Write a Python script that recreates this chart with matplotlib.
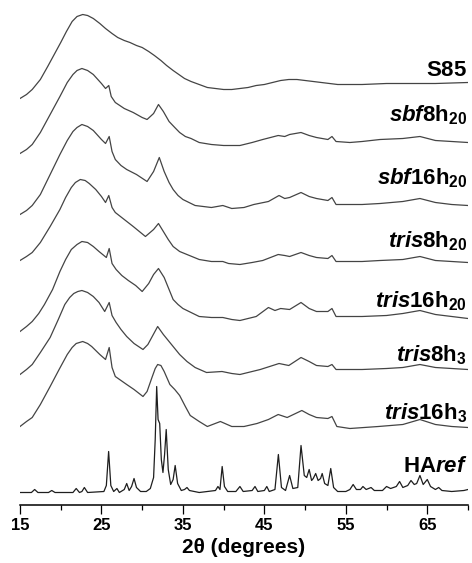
import numpy as np
import matplotlib
matplotlib.use('Agg')
import matplotlib.pyplot as plt
from matplotlib.ticker import MultipleLocator

plt.rcParams['font.family'] = 'Liberation Sans'
plt.rcParams['font.weight'] = 'bold'
plt.rcParams['mathtext.fontset'] = 'custom'
plt.rcParams['mathtext.rm'] = 'Liberation Sans:bold'
plt.rcParams['mathtext.bf'] = 'Liberation Sans:bold'
plt.rcParams['mathtext.it'] = 'Liberation Sans:italic:bold'

# XRD patterns, 2theta (deg) vs intensity (a.u.)
th_s85 = [15.0, 15.8, 16.5, 17.5, 18.4, 19.2, 20.0, 20.7, 21.4, 22.0, 22.7, 23.3, 24.0, 24.8, 25.5, 26.3, 27.0,
          27.8, 28.5, 29.3, 30.0, 30.8, 31.5, 32.3, 33.0, 33.8, 34.5, 35.2, 36.0, 37.0, 38.0, 39.0, 40.0, 41.0,
          42.0, 43.0, 44.0, 45.0, 46.0, 47.0, 48.0, 49.0, 50.0, 51.0, 52.0, 53.0, 54.0, 57.0, 60.0, 63.0, 66.0,
          70.0]
i_s85 = [0, 4, 9, 19, 32, 44, 56, 67, 77, 82, 84, 83, 80, 75, 70, 65, 61, 58, 56, 53, 51, 47, 43, 38, 33, 28,
         24, 20, 17, 14, 11, 10, 9, 9, 10, 11, 13, 14, 16, 18, 19, 19, 18, 17, 16, 15, 14, 14, 15, 15, 15, 16]

th_sbf8 = [15.0, 15.8, 16.5, 17.5, 18.7, 19.9, 20.8, 21.5, 22.0, 22.6, 23.3, 24.0, 25.0, 25.5, 25.9, 26.2, 26.7,
           27.8, 28.9, 30.0, 30.6, 31.4, 32.0, 32.6, 33.3, 34.0, 34.6, 35.3, 36.0, 37.0, 38.5, 40.0, 42.0, 43.5,
           44.8, 46.7, 47.5, 48.1, 49.5, 50.5, 51.4, 52.8, 53.3, 53.8, 55.5, 57.0, 59.2, 62.0, 64.1, 66.0, 68.0,
           70.0]
i_sbf8 = [0, 4, 9, 21, 39, 57, 71, 79, 83, 85, 83, 79, 70, 65, 68, 57, 51, 45, 41, 36, 34, 40, 49, 42, 32, 26,
          21, 17, 15, 11, 9, 8, 8, 11, 14, 18, 17, 19, 21, 18, 16, 14, 17, 12, 11, 12, 14, 15, 17, 13, 12, 11]

th_sbf16 = [15.0, 15.8, 16.5, 17.5, 18.7, 19.9, 20.8, 21.5, 22.0, 22.6, 23.3, 24.0, 25.0, 25.5, 25.95, 26.3,
            26.7, 27.4, 28.1, 29.3, 30.6, 31.4, 32.1, 32.7, 33.3, 33.8, 34.4, 35.0, 36.5, 38.5, 39.9, 41.0, 42.5,
            43.7, 45.5, 46.8, 47.5, 48.1, 49.5, 50.5, 51.4, 52.8, 53.3, 53.8, 55.5, 57.0, 59.2, 62.0, 64.1, 66.0,
            68.0, 70.0]
i_sbf16 = [0, 4, 9, 20, 40, 60, 74, 83, 87, 90, 88, 84, 75, 71, 78, 63, 55, 49, 45, 40, 33, 43, 57, 43, 32, 25,
           19, 15, 9, 7, 9, 6, 7, 10, 13, 19, 16, 17, 22, 18, 16, 14, 17, 10, 10, 10, 11, 13, 16, 12, 10, 9]

th_tris8_20 = [15.0, 15.8, 16.5, 17.5, 18.7, 19.9, 20.6, 21.3, 21.8, 22.4, 23.0, 23.5, 24.3, 25.0, 25.5, 25.9,
               26.3, 26.7, 27.8, 28.9, 30.4, 31.4, 32.0, 32.6, 33.2, 33.8, 34.6, 35.5, 37.0, 38.5, 39.9, 40.6,
               42.0, 43.5, 44.8, 46.7, 47.5, 48.1, 49.5, 50.5, 51.4, 52.8, 53.3, 53.8, 55.5, 57.0, 59.2, 62.0,
               64.1, 66.0, 68.0, 70.0]
i_tris8_20 = [4, 8, 12, 22, 38, 55, 67, 77, 82, 85, 84, 81, 75, 68, 62, 69, 57, 52, 45, 38, 28, 35, 41, 33, 25,
              18, 13, 10, 5, 3, 3, 1, 0, 2, 4, 10, 9, 8, 12, 9, 7, 6, 9, 3, 3, 3, 4, 5, 8, 4, 3, 2]

th_tris16_20 = [15.0, 15.8, 16.5, 17.3, 18.0, 19.0, 19.9, 20.6, 21.3, 22.0, 22.6, 23.3, 24.0, 24.7, 25.3, 25.6,
                25.95, 26.3, 26.8, 27.5, 28.3, 29.2, 30.0, 30.8, 31.4, 32.0, 32.7, 33.3, 33.8, 34.4, 35.0, 36.0,
                37.0, 38.5, 39.9, 41.0, 42.0, 44.0, 45.5, 46.3, 47.0, 48.1, 49.5, 50.5, 51.4, 52.8, 53.3, 53.8,
                55.5, 57.0, 60.0, 62.0, 64.1, 66.0, 68.0, 70.0]
i_tris16_20 = [0, 5, 10, 18, 27, 42, 60, 72, 82, 87, 90, 89, 85, 80, 76, 74, 83, 68, 62, 56, 51, 46, 40, 48, 57,
               63, 54, 42, 32, 27, 23, 19, 15, 14, 14, 12, 11, 15, 24, 21, 23, 22, 29, 23, 20, 20, 23, 15, 15,
               15, 16, 18, 21, 17, 15, 13]

th_tris8_3 = [15.0, 15.8, 16.5, 17.5, 18.7, 19.7, 20.5, 21.1, 21.6, 22.1, 22.6, 23.3, 24.0, 24.7, 25.4, 25.95,
              26.3, 26.8, 27.4, 28.1, 29.0, 30.1, 30.7, 31.3, 31.9, 32.6, 33.2, 33.8, 34.6, 35.5, 36.5, 37.9,
              39.8, 41.0, 42.0, 44.5, 46.8, 48.0, 49.5, 50.5, 51.4, 52.8, 53.3, 53.8, 55.5, 57.0, 60.0, 62.0,
              64.1, 66.0, 68.0, 70.0]
i_tris8_3 = [0, 5, 10, 22, 37, 55, 70, 77, 81, 83, 84, 82, 78, 72, 63, 72, 59, 52, 45, 38, 31, 25, 30, 39, 48,
             40, 34, 28, 20, 13, 7, 2, 3, 1, 0, 5, 11, 9, 17, 13, 9, 8, 10, 5, 5, 5, 6, 7, 10, 7, 6, 5]

th_tris16_3 = [15.0, 15.8, 16.5, 17.5, 18.7, 19.8, 20.8, 21.4, 21.9, 22.7, 23.3, 23.8, 24.8, 25.5, 25.95, 26.3,
               26.7, 27.4, 28.1, 29.0, 30.1, 30.6, 31.2, 31.6, 31.9, 32.3, 32.7, 33.4, 34.0, 34.6, 35.3, 35.9,
               37.0, 38.0, 39.6, 41.0, 42.5, 44.1, 45.5, 46.7, 47.8, 49.6, 50.5, 51.4, 52.8, 53.3, 53.9, 55.5,
               59.0, 62.0, 64.1, 66.0, 68.0, 70.0]
i_tris16_3 = [2, 7, 11, 24, 42, 59, 74, 81, 85, 87, 85, 82, 74, 69, 81, 61, 52, 48, 44, 39, 32, 37, 51, 60, 64,
              63, 57, 44, 39, 33, 22, 13, 7, 2, 7, 2, 2, 5, 9, 14, 11, 18, 14, 11, 10, 12, 2, 0, 2, 4, 9, 4, 2, 1]

th_ha = [15.0, 16.4, 16.8, 17.2, 18.5, 18.9, 19.3, 21.5, 21.9, 22.3, 22.6, 22.9, 23.3, 25.3, 25.6, 25.88, 26.15,
         26.5, 26.9, 27.2, 27.8, 28.1, 28.4, 28.7, 29.0, 29.3, 29.8, 30.5, 31.0, 31.4, 31.6, 31.78, 31.95, 32.15,
         32.35, 32.55, 32.75, 32.95, 33.2, 33.5, 33.8, 34.05, 34.35, 34.8, 35.2, 35.5, 35.8, 37.0, 39.0, 39.3,
         39.55, 39.82, 40.1, 40.5, 41.5, 42.0, 42.4, 43.5, 43.85, 44.2, 45.0, 45.3, 45.6, 46.3, 46.72, 47.1, 47.6,
         48.1, 48.5, 49.1, 49.5, 49.9, 50.2, 50.5, 50.8, 51.0, 51.3, 51.6, 51.9, 52.1, 52.4, 52.8, 53.15, 53.5,
         54.0, 55.0, 55.5, 55.9, 56.3, 56.8, 57.1, 57.5, 58.1, 58.5, 59.5, 60.0, 60.5, 61.2, 61.6, 62.0, 62.6,
         63.0, 63.4, 63.7, 64.1, 64.5, 65.0, 65.4, 66.0, 66.4, 66.8, 68.0, 69.5, 70.0]
i_ha = [1, 1, 4, 1, 1, 3, 1, 1, 5, 1, 2, 6, 1, 2, 8, 42, 8, 2, 5, 1, 4, 10, 3, 7, 15, 6, 2, 2, 5, 16, 54, 107,
        74, 70, 34, 21, 39, 64, 24, 9, 14, 28, 10, 3, 4, 6, 3, 1, 3, 7, 4, 27, 7, 2, 2, 7, 2, 3, 7, 2, 3, 7, 2,
        4, 39, 6, 3, 18, 5, 6, 48, 18, 16, 24, 13, 15, 20, 13, 15, 20, 10, 8, 25, 6, 2, 2, 4, 9, 4, 4, 7, 4, 6,
        3, 3, 7, 5, 7, 12, 6, 8, 13, 9, 10, 18, 9, 14, 7, 4, 6, 3, 2, 3, 4]

labels = [r'$\mathbf{S85}$', r'$\mathit{sbf}\mathbf{8h}_{\mathbf{20}}$', r'$\mathit{sbf}\mathbf{16h}_{\mathbf{20}}$',
          r'$\mathit{tris}\mathbf{8h}_{\mathbf{20}}$', r'$\mathit{tris}\mathbf{16h}_{\mathbf{20}}$',
          r'$\mathit{tris}\mathbf{8h}_{\mathbf{3}}$', r'$\mathit{tris}\mathbf{16h}_{\mathbf{3}}$',
          r'$\mathbf{HA}\mathit{ref}$']
thetas = [th_s85, th_sbf8, th_sbf16, th_tris8_20, th_tris16_20, th_tris8_3, th_tris16_3, th_ha]
intens = [i_s85, i_sbf8, i_sbf16, i_tris8_20, i_tris16_20, i_tris8_3, i_tris16_3, i_ha]

# vertical stacking of the patterns and label heights
offsets = [406, 351, 290, 240, 173, 130, 76, 11]
label_y = [428, 383, 320, 257, 197, 143, 85, 33]

fig = plt.figure(figsize=(4.72, 5.63), dpi=100)
ax = fig.add_axes([20 / 472, 58.5 / 563, 448 / 472, 504.5 / 563])

for k in range(len(labels)):
    col = '#1e1e1e' if k == len(labels) - 1 else '#444444'
    ax.plot(thetas[k], np.array(intens[k]) + offsets[k], color=col, lw=0.9,
            solid_joinstyle='round')
    ax.text(69.9, label_y[k], labels[k], ha='right', va='baseline', fontsize=16)

ax.set_xlim(15, 70)
ax.set_ylim(0, 504.5)
for s in ['left', 'right', 'top']:
    ax.spines[s].set_visible(False)
ax.spines['bottom'].set_linewidth(1.1)
ax.set_yticks([])
ax.xaxis.set_minor_locator(MultipleLocator(5))
ax.set_xticks([15, 25, 35, 45, 55, 65])
ax.tick_params(axis='x', which='major', length=6.5, width=0.9, pad=3, labelsize=12)
ax.tick_params(axis='x', which='minor', length=3.6, width=0.9)
for t in ax.get_xticklabels():
    t.set_fontweight('bold')
ax.set_xlabel('2θ (degrees)', fontsize=15, fontweight='bold', labelpad=4)

fig.savefig('out.png', dpi=100)
